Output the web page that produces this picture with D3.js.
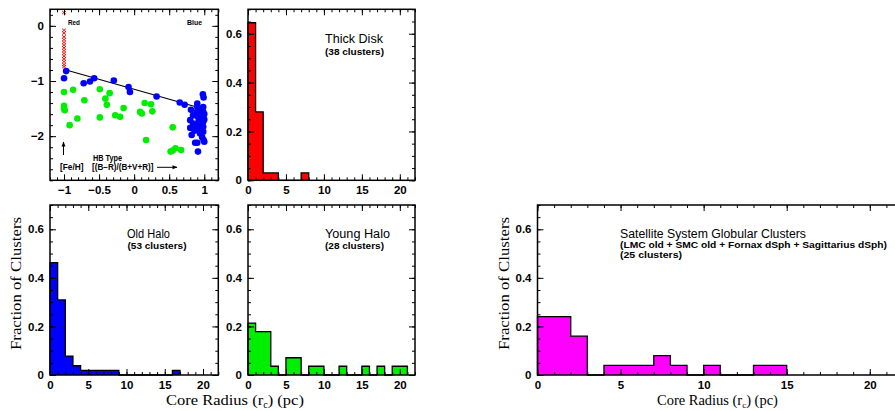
<!DOCTYPE html>
<html><head><meta charset="utf-8">
<script src="https://cdn.jsdelivr.net/npm/d3@7"></script>
<style>body{margin:0;background:#fff}svg{display:block;overflow:hidden}</style>
</head><body>
<svg id="c" width="895" height="411"></svg>
<script>
// ---------- DATA ----------
// Scatter: HB type (x) vs [Fe/H] (y)
const redPts = [[-1,0.24],[-1,-0.08],[-1,-0.13],[-1,-0.2],[-1,-0.25],[-1,-0.3],[-1,-0.35],[-1,-0.4],
  [-1,-0.45],[-1,-0.5],[-1,-0.55],[-1,-0.6],[-1,-0.65],[-1,-0.7],[-1,-0.74]];
const bluePts = [[-0.97,-0.82],[-1.0,-0.95],[-0.72,-1.04],[-0.63,-1.01],[-0.57,-0.95],[-0.29,-0.99],
  [-0.08,-1.11],[-0.06,-1.2],[0.32,-1.28],[0.65,-1.39],[0.72,-1.43],
  [0.98,-1.24],[0.99,-1.30],[0.985,-1.47],[0.985,-1.56],[0.985,-1.65],[0.985,-1.74],[0.985,-1.83],[0.985,-1.92],
  [0.99,-2.07],[1.0,-2.1],[0.90,-1.47],[0.895,-1.56],[0.90,-1.64],[0.92,-1.72],[0.88,-1.81],[0.92,-1.89],
  [0.87,-2.12],[0.90,-2.12],[0.91,-2.28],[0.81,-1.52],[0.80,-1.71],[0.80,-1.85],[0.82,-1.98],[0.84,-1.62],
  [0.84,-1.77],[0.90,-1.41],[0.97,-1.51],[1.0,-1.6],[0.94,-1.66],[0.95,-1.79],[0.94,-1.95],[0.86,-1.9],
  [1.0,-1.7],[0.93,-1.55],[0.97,-2.02]];
const greenPts = [[-1,-1.2],[-0.87,-1.16],[-1,-1.45],[-1,-1.5],[-0.99,-1.53],[-0.71,-1.35],[-0.92,-1.8],
  [-0.81,-1.68],[-0.49,-1.15],[-0.35,-1.22],[-0.41,-1.32],[-0.39,-1.43],[-0.49,-1.66],[-0.27,-1.62],
  [-0.2,-1.65],[-0.15,-1.49],[0.085,-1.56],[0.11,-1.59],[0.15,-1.4],[0.24,-1.42],[0.26,-1.55],[0.17,-2.07],
  [0.55,-1.84],[0.52,-2.28],[0.55,-2.26],[0.59,-2.22],[0.67,-2.25]];
const fitLine = [[-0.97,-0.80],[0.88,-1.466]];

// Histograms: fraction of clusters per 1-pc core-radius bin, starting at 0
const thickDisk = [0.645,0.28,0.03,0.03,0,0,0,0.03];
const oldHalo   = [0.463,0.309,0.078,0.038,0.019,0.019,0.019,0.019,0.019,0,0,0,0,0,0,0,0.019];
const youngHalo = [0.214,0.179,0.179,0.036,0,0.071,0.071,0,0.036,0.036,0,0,0.036,0,0,0.036,0,0.036,0,0.036,0.036];
const satellite = [0.24,0.24,0.16,0,0.04,0.04,0.04,0.08,0.04,0,0.04,0,0,0.04,0.04];

// ticks
const histXMajor = [0,5,10,15,20];
const histYMajor = [0,0.2,0.4,0.6];
const scXMajor = [-1,-0.5,0,0.5,1];
const scYMajor = [0,-1,-2];

// ---------- DRAW ----------
const svg = d3.select("#c");
svg.append("rect").attr("width",895).attr("height",411).attr("fill","#fff");

const sans = "'Liberation Sans', Arial, Helvetica, sans-serif";
const serif = "'Liberation Serif', 'Times New Roman', serif";

function fmtNum(d){ if (Math.abs(d)<1e-9) return "0"; const s = String(Math.abs(+d.toFixed(2))); return (d<0?"\u2212":"")+s; }

function panel(box, xDom, yDom, xMaj, xMin, yMaj, yMin) {
  const x = d3.scaleLinear().domain(xDom).range([box.x0, box.x1]);
  const y = d3.scaleLinear().domain(yDom).range([box.y1, box.y0]);
  const g = svg.append("g");
  const gd = g.append("g"); // data layer
  const ga = g.append("g"); // axes layer
  function style(sel){ sel.select(".domain").remove(); sel.selectAll("line").attr("stroke","#000").attr("stroke-width",1);
    sel.selectAll("text").attr("font-family",sans).attr("font-weight","bold").attr("font-size",11.5).attr("fill","#000"); }
  ga.append("g").attr("transform",`translate(0,${box.y1})`).call(d3.axisBottom(x).tickValues(xMin).tickSize(-3).tickFormat("")).call(style);
  ga.append("g").attr("transform",`translate(0,${box.y0})`).call(d3.axisTop(x).tickValues(xMin).tickSize(-3).tickFormat("")).call(style);
  ga.append("g").attr("transform",`translate(${box.x0},0)`).call(d3.axisLeft(y).tickValues(yMin).tickSize(-3).tickFormat("")).call(style);
  ga.append("g").attr("transform",`translate(${box.x1},0)`).call(d3.axisRight(y).tickValues(yMin).tickSize(-3).tickFormat("")).call(style);
  ga.append("g").attr("transform",`translate(0,${box.y1})`).call(d3.axisBottom(x).tickValues(xMaj).tickSize(-6).tickPadding(6).tickFormat(fmtNum)).call(style);
  ga.append("g").attr("transform",`translate(0,${box.y0})`).call(d3.axisTop(x).tickValues(xMaj).tickSize(-6).tickFormat("")).call(style);
  ga.append("g").attr("transform",`translate(${box.x0},0)`).call(d3.axisLeft(y).tickValues(yMaj).tickSize(-6).tickPadding(6).tickFormat(fmtNum)).call(style);
  ga.append("g").attr("transform",`translate(${box.x1},0)`).call(d3.axisRight(y).tickValues(yMaj).tickSize(-6).tickFormat("")).call(style);
  ga.append("rect").attr("x",box.x0).attr("y",box.y0).attr("width",box.x1-box.x0).attr("height",box.y1-box.y0)
    .attr("fill","none").attr("stroke","#000").attr("stroke-width",1.5);
  return {g, gd, x, y};
}

function hist(box, vals, color) {
  const p = panel(box, [0,22], [0,0.7], histXMajor, d3.range(0,23,1), histYMajor, d3.range(0,0.701,0.05));
  const pts = [[0,0]];
  vals.forEach((v,i)=>{ pts.push([i,v]); pts.push([i+1,v]); });
  pts.push([vals.length,0]);
  const line = d3.line().x(d=>p.x(d[0])).y(d=>p.y(d[1]));
  p.gd.append("path").attr("d", line(pts) + "Z").attr("fill",color).attr("stroke","none");
  p.gd.append("path").attr("d", line(pts)).attr("fill","none").attr("stroke","#000").attr("stroke-width",1.3);
  return p;
}

function txt(x, y, s, size, fam, weight, len) {
  const t = svg.append("text").attr("x",x).attr("y",y).text(s)
    .attr("font-family",fam).attr("font-size",size).attr("font-weight",weight).attr("fill","#000");
  if (len) t.attr("textLength",len).attr("lengthAdjust","spacingAndGlyphs");
  return t;
}

// Scatter panel
const sc = panel({x0:50,x1:218.3,y0:9.3,y1:180.3}, [-1.2,1.2], [-2.8,0.3], scXMajor, d3.range(-1.2,1.201,0.1), scYMajor, d3.range(-2.8,0.301,0.2));
sc.gd.append("path").attr("d", d3.line().x(d=>sc.x(d[0])).y(d=>sc.y(d[1]))(fitLine)).attr("stroke","#000").attr("stroke-width",1.2);
sc.gd.selectAll("circle.g").data(greenPts).join("circle").attr("class","g").attr("cx",d=>sc.x(d[0])).attr("cy",d=>sc.y(d[1])).attr("r",3.3).attr("fill","#00ee00");
sc.gd.selectAll("circle.b").data(bluePts).join("circle").attr("class","b").attr("cx",d=>sc.x(d[0])).attr("cy",d=>sc.y(d[1])).attr("r",3.3).attr("fill","#0000ff");
sc.gd.selectAll("path.r").data(redPts).join("path").attr("class","r")
  .attr("transform",d=>`translate(${sc.x(d[0])},${sc.y(d[1])})`).attr("d","M-2,-1.6L2,1.6M-2,1.6L2,-1.6")
  .attr("fill","none").attr("stroke","#ff0000").attr("stroke-width",0.9);
txt(68, 25.3, "Red", 8, sans, "bold", 12);
txt(187, 25.3, "Blue", 8, sans, "bold", 15);
txt(60, 170.3, "[Fe/H]", 8.5, sans, "bold", 23.5);
txt(93, 160.7, "HB Type", 8.5, sans, "bold", 29);
txt(92, 170.3, "[(B\u2212R)/(B+V+R)]", 8.5, sans, "bold", 61.5);
const defs = svg.append("defs");
defs.append("marker").attr("id","ah").attr("viewBox","0 0 10 10").attr("refX",9).attr("refY",5)
  .attr("markerWidth",7).attr("markerHeight",5).attr("orient","auto")
  .append("path").attr("d","M0,1 L10,5 L0,9 z").attr("fill","#000");
svg.append("line").attr("x1",63.5).attr("x2",63.5).attr("y1",155).attr("y2",142)
  .attr("stroke","#000").attr("stroke-width",1).attr("marker-end","url(#ah)");
svg.append("line").attr("x1",157).attr("x2",177).attr("y1",167.3).attr("y2",167.3)
  .attr("stroke","#000").attr("stroke-width",1).attr("marker-end","url(#ah)");

// Histograms
hist({x0:248,x1:415,y0:9.3,y1:180.3}, thickDisk, "#ff0000");
txt(325, 42.8, "Thick Disk", 12.5, sans, "normal", 58);
txt(325, 55.3, "(38 clusters)", 9, sans, "bold", 59);

hist({x0:50,x1:218.3,y0:205,y1:375}, oldHalo, "#0000ff");
txt(127, 237.8, "Old Halo", 12.5, sans, "normal", 43);
txt(127.5, 248.5, "(53 clusters)", 9, sans, "bold", 59);

hist({x0:248,x1:415,y0:205,y1:375}, youngHalo, "#00ee00");
txt(325, 237.8, "Young Halo", 12.5, sans, "normal", 65);
txt(325, 248.8, "(28 clusters)", 9, sans, "bold", 59);

hist({x0:537.5,x1:903,y0:205,y1:375}, satellite, "#ff00ff");
txt(620, 237.8, "Satellite System Globular Clusters", 12.5, sans, "normal", 186);
txt(620, 247.6, "(LMC old + SMC old + Fornax dSph + Sagittarius dSph)", 9, sans, "bold", 267);
txt(620, 257.6, "(25 clusters)", 9, sans, "bold", 62);

// Axis titles
function ytitle(x, y) {
  svg.append("text").attr("transform",`translate(${x},${y}) rotate(-90)`).attr("text-anchor","middle")
    .attr("font-family",serif).attr("font-size",15).attr("fill","#000")
    .attr("textLength",133).attr("lengthAdjust","spacingAndGlyphs").text("Fraction of Clusters");
}
ytitle(21, 283.5);
ytitle(509, 283.5);
function xtitle(x0, y, size, w) {
  const t = svg.append("text").attr("x",x0).attr("y",y)
    .attr("font-family",serif).attr("font-size",size).attr("fill","#000");
  t.append("tspan").text("Core Radius (r");
  t.append("tspan").attr("font-size",size*0.62).attr("dy",size*0.2).text("c");
  t.append("tspan").attr("dy",-size*0.2).text(") (pc)");
  const bw = t.node().getComputedTextLength();
  t.attr("transform",`translate(${x0},0) scale(${w/bw},1) translate(${-x0},0)`);
}
xtitle(166, 405.5, 15, 138);
xtitle(657, 405, 14, 121);
</script>
</body></html>
